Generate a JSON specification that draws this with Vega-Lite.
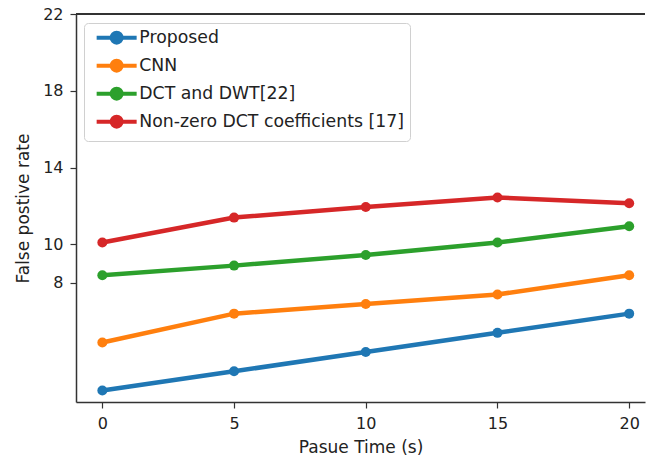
{
  "$schema": "https://vega.github.io/schema/vega-lite/v6.json",
  "autosize": {"type": "none"},
  "padding": {"left": 76, "top": 14, "right": 1, "bottom": 58},
  "width": 569,
  "height": 388,
  "background": "white",
  "config": {
    "font": "DejaVu Sans",
    "view": {"stroke": null},
    "axis": {
      "domainColor": "#333333",
      "domainWidth": 1.5,
      "tickColor": "#333333",
      "tickWidth": 1.2,
      "tickSize": 6,
      "grid": false,
      "labelFont": "DejaVu Sans",
      "labelFontSize": 16,
      "labelColor": "#222222",
      "titleFont": "DejaVu Sans",
      "titleFontSize": 17,
      "titleFontWeight": "normal",
      "titleColor": "#222222"
    }
  },
  "data": {
    "values": [
      {"t": 0, "v": 2.4, "m": "Proposed"},
      {"t": 5, "v": 3.4, "m": "Proposed"},
      {"t": 10, "v": 4.4, "m": "Proposed"},
      {"t": 15, "v": 5.4, "m": "Proposed"},
      {"t": 20, "v": 6.4, "m": "Proposed"},
      {"t": 0, "v": 4.9, "m": "CNN"},
      {"t": 5, "v": 6.4, "m": "CNN"},
      {"t": 10, "v": 6.9, "m": "CNN"},
      {"t": 15, "v": 7.4, "m": "CNN"},
      {"t": 20, "v": 8.4, "m": "CNN"},
      {"t": 0, "v": 8.4, "m": "DCT and DWT[22]"},
      {"t": 5, "v": 8.9, "m": "DCT and DWT[22]"},
      {"t": 10, "v": 9.45, "m": "DCT and DWT[22]"},
      {"t": 15, "v": 10.1, "m": "DCT and DWT[22]"},
      {"t": 20, "v": 10.95, "m": "DCT and DWT[22]"},
      {"t": 0, "v": 10.1, "m": "Non-zero DCT coefficients [17]"},
      {"t": 5, "v": 11.4, "m": "Non-zero DCT coefficients [17]"},
      {"t": 10, "v": 11.95, "m": "Non-zero DCT coefficients [17]"},
      {"t": 15, "v": 12.45, "m": "Non-zero DCT coefficients [17]"},
      {"t": 20, "v": 12.15, "m": "Non-zero DCT coefficients [17]"}
    ]
  },
  "layer": [
    {
      "mark": {"type": "rule", "color": "#333333", "strokeWidth": 1.5},
      "encoding": {"y": {"datum": 22}}
    },
    {
      "mark": {"type": "line", "strokeWidth": 4.5, "point": {"size": 100, "filled": true, "opacity": 1}},
      "encoding": {
        "x": {
          "field": "t", "type": "quantitative",
          "scale": {"domain": [-1, 20.6], "nice": false, "zero": false},
          "axis": {"values": [0, 5, 10, 15, 20], "title": "Pasue Time (s)", "titlePadding": 8, "labelPadding": 7}
        },
        "y": {
          "field": "v", "type": "quantitative",
          "scale": {"domain": [1.8, 22], "nice": false, "zero": false},
          "axis": {"values": [8, 10, 14, 18, 22], "title": "False postive rate", "titlePadding": 10, "labelPadding": 7}
        },
        "color": {
          "field": "m", "type": "nominal",
          "sort": ["Proposed", "CNN", "DCT and DWT[22]", "Non-zero DCT coefficients [17]"],
          "scale": {
            "domain": ["Proposed", "CNN", "DCT and DWT[22]", "Non-zero DCT coefficients [17]"],
            "range": ["#1f77b4", "#ff7f0e", "#2ca02c", "#d62728"]
          },
          "legend": {
            "title": null,
            "orient": "none",
            "legendX": 8,
            "legendY": 9,
            "padding": 6,
            "fillColor": "white",
            "strokeColor": "#d0d0d0",
            "cornerRadius": 4,
            "labelFont": "DejaVu Sans",
            "labelFontSize": 17.3,
            "labelColor": "#222222",
            "labelLimit": 0,
            "symbolType": "M-4,0H4M1,0A1,1 0 1,1 -1,0A1,1 0 1,1 1,0Z",
            "symbolSize": 100,
            "symbolStrokeWidth": 4,
            "symbolOffset": 18,
            "rowPadding": 1,
            "labelOffset": 14
          }
        }
      }
    }
  ]
}
